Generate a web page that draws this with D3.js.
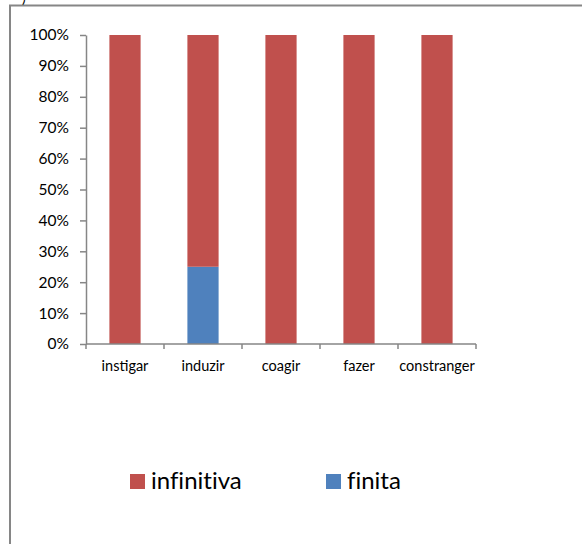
<!DOCTYPE html>
<html><head><meta charset="utf-8">
<script src="https://cdn.jsdelivr.net/npm/d3@7"></script>
<style>html,body{margin:0;padding:0;background:#fff;}svg{display:block;}</style>
</head><body>
<script>
const categories = ["instigar","induzir","coagir","fazer","constranger"];
const finita = [0, 25, 0, 0, 0];
const infinitiva = [100, 75, 100, 100, 100];
const seriesNames = ["infinitiva","finita"];
const seriesColors = ["#C0504D","#4F81BD"];
const yTicks = [0,10,20,30,40,50,60,70,80,90,100];

const W = 582, H = 544;
const svg = d3.select("body").append("svg").attr("width", W).attr("height", H);
const font = "Lato, 'Open Sans', sans-serif";

// frame
svg.append("path").attr("d", "M10,560 L10,5.5 L590,5.5").attr("fill","none").attr("stroke","#868686").attr("stroke-width",2);
svg.append("text").attr("x",22).attr("y",3).attr("font-family",font).attr("font-size",14).attr("fill","#000").text(")");

const x0 = 86, x1 = 476, yTop = 35, yBot = 344;
const x = d3.scaleBand().domain(categories).range([x0, x1]).paddingInner(0.6).paddingOuter(0.3);
const y = d3.scaleLinear().domain([0,100]).range([yBot, yTop]);

const data = categories.map((c,i)=>({cat:c, finita:finita[i], infinitiva:infinitiva[i]}));
const stack = d3.stack().keys(["finita","infinitiva"])(data);
const colorOf = {infinitiva:seriesColors[0], finita:seriesColors[1]};

svg.append("g").selectAll("g").data(stack).join("g").attr("fill", d=>colorOf[d.key])
  .selectAll("rect").data(d=>d).join("rect")
  .attr("x", d=>x(d.data.cat)).attr("width", x.bandwidth())
  .attr("y", d=>y(d[1])).attr("height", d=>y(d[0])-y(d[1]));

// y axis
const ya = svg.append("g").attr("transform",`translate(${x0},0)`)
  .call(d3.axisLeft(y).tickValues(yTicks).tickFormat(d=>d+"%").tickSize(6).tickSizeOuter(0).tickPadding(11));
ya.select(".domain").attr("stroke","#868686").attr("stroke-width",1.5);
ya.selectAll(".tick line").attr("stroke","#868686").attr("stroke-width",1.5);
ya.selectAll("text").attr("font-family",font).attr("font-size",15.5).attr("fill","#000");

// x axis
const xl = d3.scalePoint().domain(d3.range(categories.length+1)).range([x0,x1]);
const xa = svg.append("g").attr("transform",`translate(0,${yBot})`);
xa.append("line").attr("x1",x0).attr("x2",x1).attr("stroke","#868686").attr("stroke-width",1.5);
xa.selectAll("line.t").data(d3.range(categories.length+1)).join("line").attr("class","t")
  .attr("x1",d=>xl(d)).attr("x2",d=>xl(d)).attr("y1",0).attr("y2",5).attr("stroke","#868686").attr("stroke-width",1.5);
xa.selectAll("text").data(categories).join("text")
  .attr("x",d=>x(d)+x.bandwidth()/2).attr("y",27).attr("text-anchor","middle")
  .attr("font-family",font).attr("font-size",14.5).attr("fill","#000").text(d=>d);

// legend
const legX = [130, 326];
const lg = svg.append("g").selectAll("g").data(seriesNames).join("g")
  .attr("transform",(d,i)=>`translate(${legX[i]},474)`);
lg.append("rect").attr("width",15).attr("height",15).attr("fill",(d,i)=>seriesColors[i]);
lg.append("text").attr("x",21).attr("y",15).attr("font-family",font).attr("font-size",24)
  .style("font-variant-ligatures","none").attr("fill","#000").text(d=>d);
</script>
</body></html>
